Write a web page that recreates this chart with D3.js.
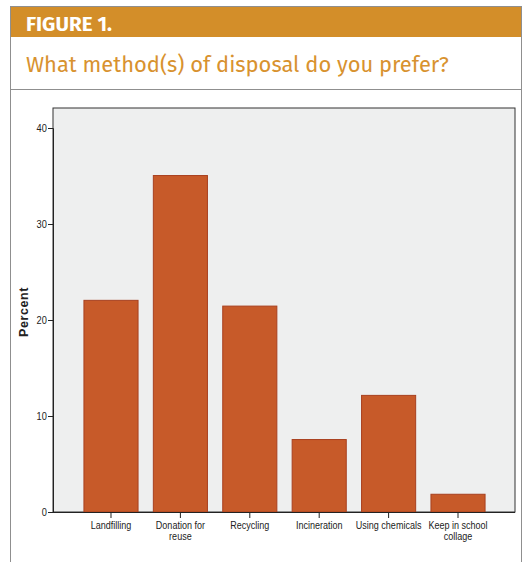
<!DOCTYPE html>
<html><head><meta charset="utf-8">
<script src="https://cdn.jsdelivr.net/npm/d3@7"></script>
<style>
html,body{margin:0;padding:0;background:#fff;}
svg{display:block;}
</style></head>
<body><svg id="c" width="529" height="562"></svg>
<script>
const categories = ["Landfilling", "Donation for|reuse", "Recycling", "Incineration", "Using chemicals", "Keep in school|collage"];
const values = [22.1, 35.1, 21.5, 7.6, 12.2, 1.9];
const yTicks = [0, 10, 20, 30, 40];
const headerText = "FIGURE 1.";
const titleText = "What method(s) of disposal do you prefer?";
const yLabel = "Percent";

(function () {
const svg = d3.select("#c");
const narrow = "'Liberation Sans Narrow','Arial Narrow',Arial,'Liberation Sans',sans-serif";
const headFont = "'Fira Sans','Open Sans','Noto Sans',sans-serif";

function fitWidth(sel, target) {
  const w = sel.node().getComputedTextLength();
  const fs = +sel.attr("font-size");
  if (w > 0) sel.attr("font-size", fs * target / w);
}

// Outer box
svg.append("rect").attr("x", 10.5).attr("y", 6.5).attr("width", 511).attr("height", 570)
  .attr("fill", "#fff").attr("stroke", "#8f8f8f").attr("stroke-width", 1);
// Header band
svg.append("rect").attr("x", 11).attr("y", 7).attr("width", 510).attr("height", 30).attr("fill", "#D38E29");
const h = svg.append("text").attr("x", 26).attr("y", 31).text(headerText)
  .attr("fill", "#fff").attr("font-family", headFont)
  .attr("font-weight", "bold").attr("font-size", 16.5);
fitWidth(h, 86);
// Title
const t = svg.append("text").attr("x", 26).attr("y", 72).text(titleText)
  .attr("fill", "#D8922F").attr("font-family", headFont)
  .attr("font-size", 20.5);
fitWidth(t, 423);
// separator
svg.append("line").attr("x1", 10).attr("x2", 522).attr("y1", 89.5).attr("y2", 89.5)
  .attr("stroke", "#8f8f8f").attr("stroke-width", 1);

// Plot
const pl = 53, pr = 515, pt = 108, pb = 512;
const y = d3.scaleLinear().domain([0, 40]).range([pb, 128]);
const x = d3.scaleBand().domain(categories).range([76.5, 492.5]).paddingInner(0.206).paddingOuter(0.1);

svg.append("rect").attr("x", pl).attr("y", pt).attr("width", pr - pl).attr("height", pb - pt)
  .attr("fill", "#EEEFEF").attr("stroke", "#333").attr("stroke-width", 1);

svg.append("g").selectAll("rect").data(values).join("rect")
  .attr("x", (d, i) => x(categories[i]) + 0.5)
  .attr("y", d => y(d) + 0.5)
  .attr("width", x.bandwidth() - 1)
  .attr("height", d => pb - y(d) - 0.5)
  .attr("fill", "#C75A29").attr("stroke", "#A8401F").attr("stroke-width", 1);

// Y axis
const yAxis = svg.append("g").attr("transform", `translate(${pl},0)`)
  .call(d3.axisLeft(y).tickValues(yTicks).tickSize(5).tickPadding(2));
yAxis.select(".domain").attr("stroke", "#222");
yAxis.selectAll(".tick line").attr("stroke", "#222");
yAxis.selectAll("text").attr("font-family", narrow).attr("font-size", 10.5).attr("fill", "#222")
  .attr("transform", "scale(0.88,1)");

// X axis
const xAxis = svg.append("g").attr("transform", `translate(0,${pb})`)
  .call(d3.axisBottom(x).tickSize(6).tickPadding(3).tickFormat(""));
xAxis.select(".domain").remove();
xAxis.selectAll(".tick line").attr("stroke", "#222");
xAxis.selectAll(".tick").each(function(d) {
  const lines = d.split("|");
  const tx = d3.select(this).append("text").attr("fill", "#222")
    .attr("font-family", narrow).attr("font-size", 10.5).attr("text-anchor", "middle")
    .attr("transform", "scale(0.86,1)");
  lines.forEach((l, i) => tx.append("tspan").attr("x", 0).attr("y", 17 + i * 11).text(l));
});
svg.append("line").attr("x1", pl).attr("x2", pr).attr("y1", pb + 0.5).attr("y2", pb + 0.5)
  .attr("stroke", "#222");

// Y label
svg.append("text").attr("transform", `translate(28,312) rotate(-90)`)
  .attr("text-anchor", "middle").attr("font-family", "Arial,'Liberation Sans',sans-serif")
  .attr("font-weight", "bold").attr("font-size", 12.5).attr("fill", "#222")
  .attr("letter-spacing", 0.6).text(yLabel);
})();
</script></body></html>
